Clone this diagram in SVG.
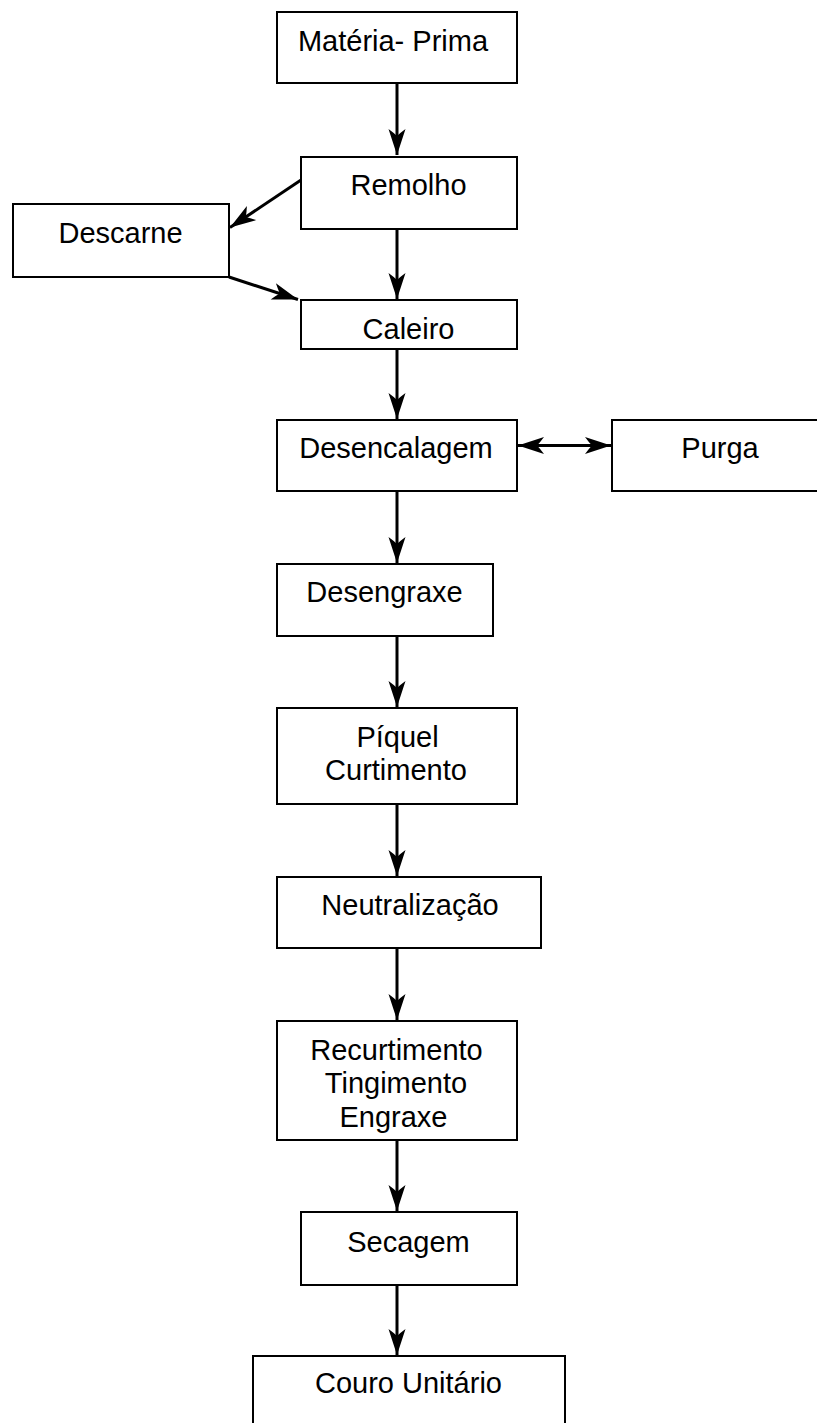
<svg xmlns="http://www.w3.org/2000/svg" width="817" height="1423" viewBox="0 0 817 1423">
<style>
.box{fill:#fff;stroke:#000;stroke-width:2}
.t{font-family:"Liberation Sans",Arial,sans-serif;font-size:29px;fill:#000;text-anchor:middle}
.c{stroke:#000;stroke-width:3;fill:none}
</style>
<defs>
<marker id="ah" viewBox="-27 -10 28 20" refX="0" refY="0" markerWidth="28" markerHeight="20" markerUnits="userSpaceOnUse" orient="auto-start-reverse">
<path d="M0,0 L-26,-8.5 Q-22,-3 -19,0 Q-22,3 -26,8.5 Z" fill="#000"/>
</marker>
</defs>
<rect width="817" height="1423" fill="#fff"/>
<g id="connectors">
<line class="c" x1="397" y1="83" x2="397" y2="155" marker-end="url(#ah)"/>
<line class="c" x1="397" y1="229" x2="397" y2="299" marker-end="url(#ah)"/>
<line class="c" x1="397" y1="349" x2="397" y2="419" marker-end="url(#ah)"/>
<line class="c" x1="397" y1="491" x2="397" y2="563" marker-end="url(#ah)"/>
<line class="c" x1="397" y1="636" x2="397" y2="707" marker-end="url(#ah)"/>
<line class="c" x1="397" y1="804" x2="397" y2="876" marker-end="url(#ah)"/>
<line class="c" x1="397" y1="948" x2="397" y2="1020" marker-end="url(#ah)"/>
<line class="c" x1="397" y1="1140" x2="397" y2="1211" marker-end="url(#ah)"/>
<line class="c" x1="397" y1="1285" x2="397" y2="1355" marker-end="url(#ah)"/>
<line class="c" x1="301" y1="180" x2="230" y2="227.5" marker-end="url(#ah)"/>
<line class="c" x1="229" y1="277" x2="298" y2="299.5" marker-end="url(#ah)"/>
<line class="c" x1="518" y1="445.5" x2="611" y2="445.5" marker-start="url(#ah)" marker-end="url(#ah)"/>
</g>
<g id="materia"><rect class="box" x="277" y="12" width="240" height="71"/><text class="t" x="393" y="51">Matéria- Prima</text></g>
<g id="remolho"><rect class="box" x="301" y="157" width="216" height="72"/><text class="t" x="408.5" y="195">Remolho</text></g>
<g id="descarne"><rect class="box" x="13" y="204" width="216" height="73"/><text class="t" x="120.5" y="243">Descarne</text></g>
<g id="caleiro"><rect class="box" x="301" y="300" width="216" height="49"/><text class="t" x="408.5" y="339">Caleiro</text></g>
<g id="desencalagem"><rect class="box" x="277" y="420" width="240" height="71"/><text class="t" x="396" y="458">Desencalagem</text></g>
<g id="purga"><rect class="box" x="612" y="420" width="220" height="71"/><text class="t" x="720" y="458">Purga</text></g>
<g id="desengraxe"><rect class="box" x="277" y="564" width="216" height="72"/><text class="t" x="384.5" y="602">Desengraxe</text></g>
<g id="piquel"><rect class="box" x="277" y="708" width="240" height="96"/><text class="t" x="397.5" y="747">Píquel</text><text class="t" x="396" y="780">Curtimento</text></g>
<g id="neutralizacao"><rect class="box" x="277" y="877" width="264" height="71"/><text class="t" x="410" y="915">Neutralização</text></g>
<g id="recurtimento"><rect class="box" x="277" y="1021" width="240" height="119"/><text class="t" x="396.5" y="1060">Recurtimento</text><text class="t" x="396" y="1093">Tingimento</text><text class="t" x="393.5" y="1127">Engraxe</text></g>
<g id="secagem"><rect class="box" x="301" y="1212" width="216" height="73"/><text class="t" x="408.5" y="1252">Secagem</text></g>
<g id="couro"><rect class="box" x="253" y="1356" width="312" height="80"/><text class="t" x="408.5" y="1393">Couro Unitário</text></g>
</svg>
